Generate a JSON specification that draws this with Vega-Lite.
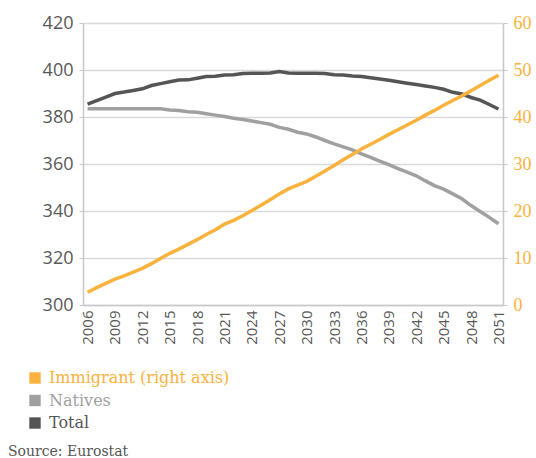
{
  "$schema": "https://vega.github.io/schema/vega-lite/v6.json",
  "autosize": "none",
  "width": 420,
  "height": 282,
  "padding": {"left": 83, "top": 23, "right": 33, "bottom": 153},
  "background": "white",
  "config": {
    "view": {"stroke": null},
    "axis": {"gridColor": "#D9D9D9", "domainColor": "#C8C8C8", "tickColor": "#C8C8C8", "gridWidth": 1.5, "domainWidth": 1.5}
  },
  "title": {"text": "Source: Eurostat", "orient": "bottom", "anchor": "start", "frame": "group", "dx": -75, "offset": 14, "font": "DejaVu Serif", "fontSize": 14, "fontWeight": "normal", "color": "#555555"},
  "data": {"values": [
    {"year":2006,"series":"Immigrant (right axis)","value":2.7},{"year":2007,"series":"Immigrant (right axis)","value":3.7},{"year":2008,"series":"Immigrant (right axis)","value":4.6},{"year":2009,"series":"Immigrant (right axis)","value":5.5},{"year":2010,"series":"Immigrant (right axis)","value":6.2},{"year":2011,"series":"Immigrant (right axis)","value":7.0},{"year":2012,"series":"Immigrant (right axis)","value":7.8},{"year":2013,"series":"Immigrant (right axis)","value":8.8},{"year":2014,"series":"Immigrant (right axis)","value":9.9},{"year":2015,"series":"Immigrant (right axis)","value":11.0},{"year":2016,"series":"Immigrant (right axis)","value":11.9},{"year":2017,"series":"Immigrant (right axis)","value":12.9},{"year":2018,"series":"Immigrant (right axis)","value":13.9},{"year":2019,"series":"Immigrant (right axis)","value":15.0},{"year":2020,"series":"Immigrant (right axis)","value":16.0},{"year":2021,"series":"Immigrant (right axis)","value":17.2},{"year":2022,"series":"Immigrant (right axis)","value":18.0},{"year":2023,"series":"Immigrant (right axis)","value":19.0},{"year":2024,"series":"Immigrant (right axis)","value":20.1},{"year":2025,"series":"Immigrant (right axis)","value":21.2},{"year":2026,"series":"Immigrant (right axis)","value":22.4},{"year":2027,"series":"Immigrant (right axis)","value":23.6},{"year":2028,"series":"Immigrant (right axis)","value":24.7},{"year":2029,"series":"Immigrant (right axis)","value":25.5},{"year":2030,"series":"Immigrant (right axis)","value":26.3},{"year":2031,"series":"Immigrant (right axis)","value":27.4},{"year":2032,"series":"Immigrant (right axis)","value":28.5},{"year":2033,"series":"Immigrant (right axis)","value":29.7},{"year":2034,"series":"Immigrant (right axis)","value":30.9},{"year":2035,"series":"Immigrant (right axis)","value":32.0},{"year":2036,"series":"Immigrant (right axis)","value":33.2},{"year":2037,"series":"Immigrant (right axis)","value":34.2},{"year":2038,"series":"Immigrant (right axis)","value":35.2},{"year":2039,"series":"Immigrant (right axis)","value":36.3},{"year":2040,"series":"Immigrant (right axis)","value":37.3},{"year":2041,"series":"Immigrant (right axis)","value":38.3},{"year":2042,"series":"Immigrant (right axis)","value":39.3},{"year":2043,"series":"Immigrant (right axis)","value":40.4},{"year":2044,"series":"Immigrant (right axis)","value":41.4},{"year":2045,"series":"Immigrant (right axis)","value":42.5},{"year":2046,"series":"Immigrant (right axis)","value":43.5},{"year":2047,"series":"Immigrant (right axis)","value":44.5},{"year":2048,"series":"Immigrant (right axis)","value":45.6},{"year":2049,"series":"Immigrant (right axis)","value":46.7},{"year":2050,"series":"Immigrant (right axis)","value":47.8},{"year":2051,"series":"Immigrant (right axis)","value":48.9},
    {"year":2006,"series":"Natives","value":383.5},{"year":2007,"series":"Natives","value":383.5},{"year":2008,"series":"Natives","value":383.5},{"year":2009,"series":"Natives","value":383.5},{"year":2010,"series":"Natives","value":383.5},{"year":2011,"series":"Natives","value":383.5},{"year":2012,"series":"Natives","value":383.5},{"year":2013,"series":"Natives","value":383.5},{"year":2014,"series":"Natives","value":383.5},{"year":2015,"series":"Natives","value":383.0},{"year":2016,"series":"Natives","value":382.8},{"year":2017,"series":"Natives","value":382.2},{"year":2018,"series":"Natives","value":382.0},{"year":2019,"series":"Natives","value":381.4},{"year":2020,"series":"Natives","value":380.8},{"year":2021,"series":"Natives","value":380.2},{"year":2022,"series":"Natives","value":379.5},{"year":2023,"series":"Natives","value":378.9},{"year":2024,"series":"Natives","value":378.3},{"year":2025,"series":"Natives","value":377.6},{"year":2026,"series":"Natives","value":376.9},{"year":2027,"series":"Natives","value":375.6},{"year":2028,"series":"Natives","value":374.8},{"year":2029,"series":"Natives","value":373.5},{"year":2030,"series":"Natives","value":372.8},{"year":2031,"series":"Natives","value":371.5},{"year":2032,"series":"Natives","value":370.0},{"year":2033,"series":"Natives","value":368.6},{"year":2034,"series":"Natives","value":367.3},{"year":2035,"series":"Natives","value":366.0},{"year":2036,"series":"Natives","value":364.3},{"year":2037,"series":"Natives","value":362.8},{"year":2038,"series":"Natives","value":361.2},{"year":2039,"series":"Natives","value":359.7},{"year":2040,"series":"Natives","value":358.0},{"year":2041,"series":"Natives","value":356.5},{"year":2042,"series":"Natives","value":355.0},{"year":2043,"series":"Natives","value":352.8},{"year":2044,"series":"Natives","value":350.8},{"year":2045,"series":"Natives","value":349.3},{"year":2046,"series":"Natives","value":347.3},{"year":2047,"series":"Natives","value":345.2},{"year":2048,"series":"Natives","value":342.3},{"year":2049,"series":"Natives","value":339.8},{"year":2050,"series":"Natives","value":337.3},{"year":2051,"series":"Natives","value":334.6},
    {"year":2006,"series":"Total","value":385.5},{"year":2007,"series":"Total","value":387.0},{"year":2008,"series":"Total","value":388.5},{"year":2009,"series":"Total","value":390.0},{"year":2010,"series":"Total","value":390.6},{"year":2011,"series":"Total","value":391.3},{"year":2012,"series":"Total","value":392.0},{"year":2013,"series":"Total","value":393.4},{"year":2014,"series":"Total","value":394.2},{"year":2015,"series":"Total","value":395.0},{"year":2016,"series":"Total","value":395.7},{"year":2017,"series":"Total","value":395.8},{"year":2018,"series":"Total","value":396.5},{"year":2019,"series":"Total","value":397.2},{"year":2020,"series":"Total","value":397.3},{"year":2021,"series":"Total","value":397.9},{"year":2022,"series":"Total","value":398.0},{"year":2023,"series":"Total","value":398.5},{"year":2024,"series":"Total","value":398.6},{"year":2025,"series":"Total","value":398.6},{"year":2026,"series":"Total","value":398.7},{"year":2027,"series":"Total","value":399.3},{"year":2028,"series":"Total","value":398.7},{"year":2029,"series":"Total","value":398.6},{"year":2030,"series":"Total","value":398.6},{"year":2031,"series":"Total","value":398.6},{"year":2032,"series":"Total","value":398.5},{"year":2033,"series":"Total","value":398.0},{"year":2034,"series":"Total","value":397.9},{"year":2035,"series":"Total","value":397.4},{"year":2036,"series":"Total","value":397.2},{"year":2037,"series":"Total","value":396.7},{"year":2038,"series":"Total","value":396.2},{"year":2039,"series":"Total","value":395.6},{"year":2040,"series":"Total","value":395.0},{"year":2041,"series":"Total","value":394.4},{"year":2042,"series":"Total","value":393.8},{"year":2043,"series":"Total","value":393.2},{"year":2044,"series":"Total","value":392.6},{"year":2045,"series":"Total","value":391.8},{"year":2046,"series":"Total","value":390.5},{"year":2047,"series":"Total","value":389.8},{"year":2048,"series":"Total","value":388.3},{"year":2049,"series":"Total","value":387.2},{"year":2050,"series":"Total","value":385.3},{"year":2051,"series":"Total","value":383.4}
  ]},
  "encoding": {
    "x": {"field": "year", "type": "quantitative",
      "scale": {"domain": [2005.5, 2051.5], "nice": false, "zero": false},
      "axis": {"title": null, "values": [2006,2009,2012,2015,2018,2021,2024,2027,2030,2033,2036,2039,2042,2045,2048,2051], "format": "d", "labelAngle": -90, "grid": false, "ticks": false, "labelFont": "Open Sans", "labelFontSize": 15, "labelColor": "#595959", "labelPadding": 5, "labelFlush": false, "labelOverlap": false}},
    "color": {"field": "series", "type": "nominal",
      "scale": {"domain": ["Immigrant (right axis)", "Natives", "Total"], "range": ["#F9B23E", "#A0A0A2", "#555557"]},
      "legend": {"title": null, "orient": "none", "legendX": -56, "legendY": 347, "symbolType": "square", "symbolSize": 130, "symbolStrokeWidth": 0, "labelFont": "DejaVu Serif", "labelFontSize": 16, "labelLimit": 0, "labelOffset": 6, "rowPadding": 6.5,
        "encode": {"symbols": {"update": {"fill": {"scale": "color", "field": "value"}, "stroke": {"value": "transparent"}, "opacity": {"value": 1}}}, "labels": {"update": {"fill": {"scale": "color", "field": "value"}}}}}}
  },
  "layer": [
    {
      "transform": [{"filter": "datum.series !== 'Immigrant (right axis)'"}],
      "mark": {"type": "line", "strokeWidth": 3.5},
      "encoding": {
        "y": {"field": "value", "type": "quantitative", "scale": {"domain": [300, 420], "nice": false, "zero": false},
          "axis": {"title": null, "values": [300,320,340,360,380,400,420], "orient": "left", "tickSize": 4, "labelFont": "Open Sans", "labelFontSize": 18, "labelColor": "#595959", "labelPadding": 6}}
      }
    },
    {
      "transform": [{"filter": "datum.series === 'Immigrant (right axis)'"}],
      "mark": {"type": "line", "strokeWidth": 3.5},
      "encoding": {
        "y": {"field": "value", "type": "quantitative", "scale": {"domain": [0, 60], "nice": false},
          "axis": {"title": null, "values": [0,10,20,30,40,50,60], "orient": "right", "grid": false, "tickSize": 4, "labelFont": "Liberation Serif", "labelFontSize": 18, "labelColor": "#F9B23E", "labelPadding": 6}}
      }
    }
  ],
  "resolve": {"scale": {"y": "independent"}}
}
